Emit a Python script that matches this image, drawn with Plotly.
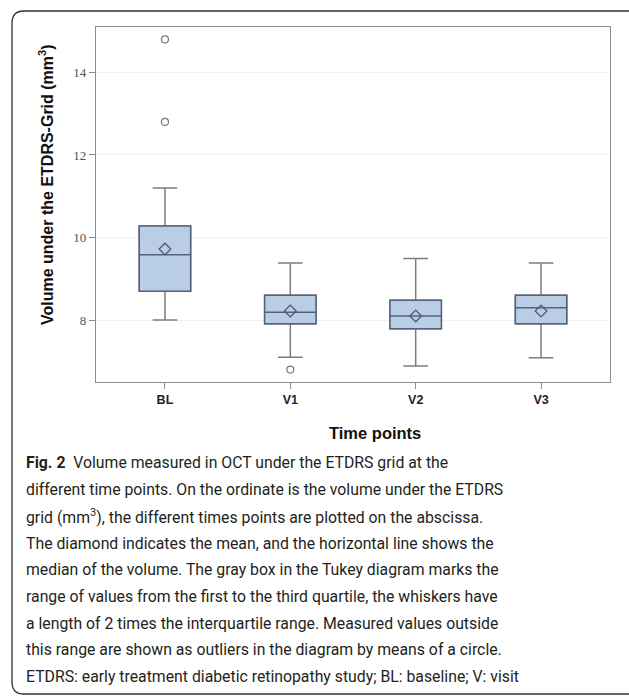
import plotly.graph_objects as go

# Time points and summary statistics of the volume under the ETDRS grid (mm³)
time_points = ["BL", "V1", "V2", "V3"]
q1_vals = [8.70, 7.91, 7.79, 7.91]
median_vals = [9.58, 8.19, 8.10, 8.30]
q3_vals = [10.28, 8.60, 8.48, 8.60]
lower_whisker = [8.00, 7.10, 6.89, 7.09]
upper_whisker = [11.20, 9.38, 9.49, 9.38]
mean_vals = [9.72, 8.22, 8.10, 8.22]

# Outliers beyond the whiskers
outlier_x = ["BL", "BL", "V1"]
outlier_y = [14.8, 12.8, 6.8]

y_ticks = [8, 10, 12, 14]

caption_lines = [
    "<b>Fig. 2</b>  Volume measured in OCT under the ETDRS grid at the",
    "different time points. On the ordinate is the volume under the ETDRS",
    "grid (mm<sup>3</sup>), the different times points are plotted on the abscissa.",
    "The diamond indicates the mean, and the horizontal line shows the",
    "median of the volume. The gray box in the Tukey diagram marks the",
    "range of values from the first to the third quartile, the whiskers have",
    "a length of 2 times the interquartile range. Measured values outside",
    "this range are shown as outliers in the diagram by means of a circle.",
    "ETDRS: early treatment diabetic retinopathy study; BL: baseline; V: visit",
]

W, H = 629, 697
L, R, T, B = 96, 19, 27, 315
PW, PH = W - L - R, H - T - B


def px(x):
    return (x - L) / PW


def py(y):
    return (H - B - y) / PH


fig = go.Figure()

# Whiskers and caps (gray)
fig.add_trace(go.Box(
    x=time_points,
    q1=q1_vals, median=median_vals, q3=q3_vals,
    lowerfence=lower_whisker, upperfence=upper_whisker,
    fillcolor="#b9cde6",
    line=dict(color="#7d7d7d", width=1.5),
    whiskerwidth=0.48, width=0.41,
    boxpoints=False, showlegend=False, hoverinfo="skip",
))

# Box body and median line (darker slate)
fig.add_trace(go.Box(
    x=time_points,
    q1=q1_vals, median=median_vals, q3=q3_vals,
    lowerfence=q1_vals, upperfence=q3_vals,
    fillcolor="#b9cde6",
    line=dict(color="#55627a", width=1.5),
    whiskerwidth=0, width=0.41,
    boxpoints=False, showlegend=False, hoverinfo="skip",
))

fig.add_trace(go.Scatter(
    x=time_points, y=mean_vals, mode="markers",
    marker=dict(symbol="diamond-open", size=9, color="#4f5a68", line=dict(width=1.3)),
    showlegend=False, hoverinfo="skip",
))

fig.add_trace(go.Scatter(
    x=outlier_x, y=outlier_y, mode="markers",
    marker=dict(symbol="circle-open", size=7, color="#7a7a7a", line=dict(width=1.2)),
    showlegend=False, hoverinfo="skip",
))

fig.update_layout(boxmode="overlay")

fig.update_xaxes(
    range=[-0.55, 3.55],
    showline=True, linecolor="#8c8c8c", linewidth=1.2, mirror=True,
    ticks="outside", ticklen=6, tickcolor="#8c8c8c",
    tickfont=dict(family="Liberation Sans", size=12.5, color="#222", weight="bold"),
    showgrid=False, zeroline=False,
)
fig.update_yaxes(
    range=[6.5, 15.1],
    tickvals=y_ticks,
    showline=True, linecolor="#8c8c8c", linewidth=1.2, mirror=True,
    ticks="outside", ticklen=6, tickcolor="#8c8c8c",
    tickfont=dict(family="Liberation Serif", size=13, color="#555"),
    showgrid=True, gridcolor="#f1f1f1", gridwidth=1,
    zeroline=False,
)

annotations = [
    dict(text="<b>Volume under the ETDRS-Grid (mm<sup>3</sup>)</b>",
         x=px(46), y=py(185), xref="paper", yref="paper", textangle=-90,
         showarrow=False, font=dict(family="Liberation Sans", size=16, color="#111"),
         xanchor="center", yanchor="middle"),
    dict(text="<b>Time points</b>",
         x=px(375), y=py(433), xref="paper", yref="paper",
         showarrow=False, font=dict(family="Liberation Sans", size=16.5, color="#111"),
         xanchor="center", yanchor="middle"),
]

line_y0, line_dy = 463, 26.7
for i, line in enumerate(caption_lines):
    annotations.append(dict(
        text=line, x=px(24), y=py(line_y0 + i * line_dy),
        xref="paper", yref="paper", showarrow=False,
        xanchor="left", yanchor="middle",
        font=dict(family="Roboto", size=15.8, color="#231f20"),
    ))

# Rounded card outline around the figure
x0, x1 = px(12), px(650)
y0, y1 = py(11), py(694)
rx, ry = 12 / PW, 12 / PH
card_path = (
    f"M {x0 + rx},{y0} L {x1},{y0} L {x1},{y1} L {x0 + rx},{y1} "
    f"Q {x0},{y1} {x0},{y1 + ry} L {x0},{y0 - ry} Q {x0},{y0} {x0 + rx},{y0} Z"
)

fig.update_layout(
    width=W, height=H,
    margin=dict(l=L, r=R, t=T, b=B),
    paper_bgcolor="white", plot_bgcolor="white",
    annotations=annotations,
    shapes=[dict(type="path", path=card_path, xref="paper", yref="paper",
                 line=dict(color="#333", width=1.3), layer="above")],
)

fig.write_html("out.html")
